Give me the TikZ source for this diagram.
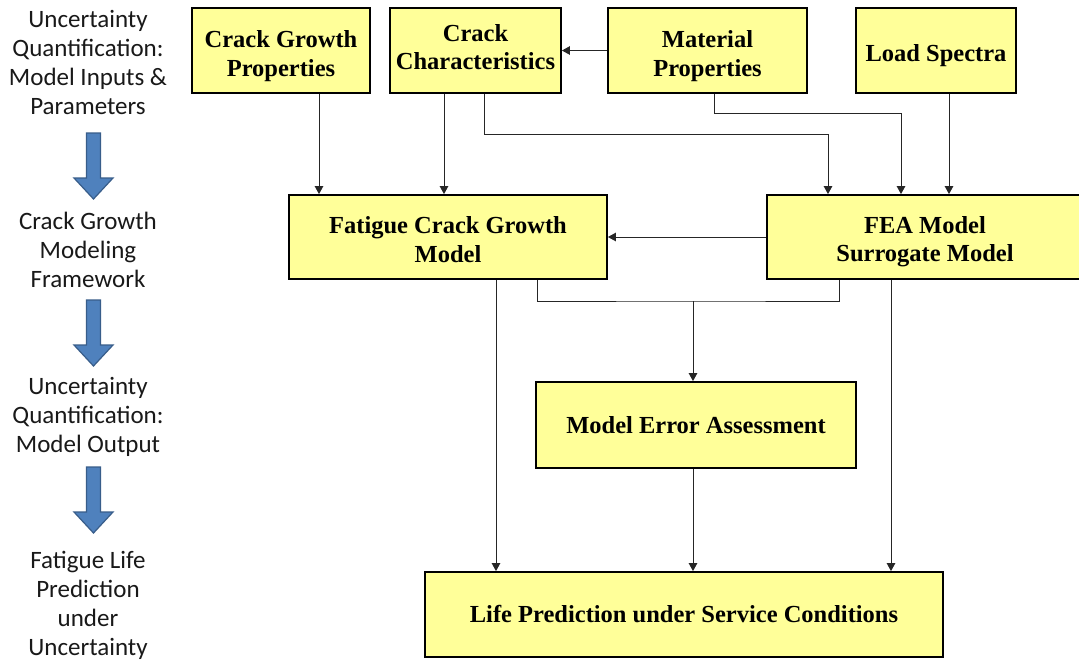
\documentclass[tikz,border=0pt]{standalone}
\usepackage{fontspec}
\setmainfont{Liberation Serif}
\newfontfamily\calibri{Carlito}
\usetikzlibrary{arrows.meta}
\definecolor{boxyellow}{HTML}{FFFF99}
\definecolor{arrowblue}{HTML}{4F81BD}
\definecolor{arrowedge}{HTML}{385D8A}

\begin{document}
\begin{tikzpicture}[x=1pt,y=-1pt,
	box/.style={draw,line width=1.8pt,fill=boxyellow,align=center,inner sep=0pt,font=\fontsize{24.5}{28.5}\selectfont\bfseries},
	sink/.style={text height=#1},
	lab/.style={align=center,text=black!90,font=\calibri\fontsize{25}{29}\selectfont},
	wire/.style={line width=0.9pt,draw=black!85},
	conn/.style={wire,-{Triangle[length=8pt,width=8.5pt]}}]
	\clip (0,0) rectangle (1079,662);
	\fill[white] (0,0) rectangle (1079,662);
	\node[lab] (uqin) at (88,62.5) {Uncertainty\\Quantification:\\Model Inputs \&\\Parameters};
	\node[lab] (cgmf) at (88,250) {Crack Growth\\Modeling\\Framework};
	\node[lab] (uqout) at (88,417) {Uncertainty\\Quantification:\\Model Output};
	\node[lab] (flpu) at (88,605) {Fatigue Life\\Prediction\\under\\Uncertainty};
	\foreach\t in{133,300,467}{\filldraw[fill=arrowblue,draw=arrowedge,line width=1.2pt] (86.5,\t) -- (100.5,\t) -- (100.5,\t+45) -- (113,\t+45) -- (93.5,\t+66) -- (74,\t+45) -- (86.5,\t+45) -- cycle;}
	\node[box,sink=57pt,minimum width=178pt,minimum height=85pt] (cgp) at (281,50.5) {Crack Growth\\Properties};
	\node[box,sink=39pt,minimum width=171pt,minimum height=85pt] (cc) at (475.5,50.5) {Crack\\Characteristics};
	\node[box,sink=57pt,minimum width=199pt,minimum height=85pt] (mp) at (707.5,50.5) {Material\\Properties};
	\node[box,sink=27pt,minimum width=160pt,minimum height=85pt] (ls) at (936,50.5) {Load Spectra};
	\node[box,sink=51pt,minimum width=318pt,minimum height=84pt] (fcg) at (448,237) {Fatigue Crack Growth\\Model};
	\node[box,sink=55pt,minimum width=316pt,minimum height=84pt] (fea) at (925,237) {FEA Model\\Surrogate Model};
	\node[box,minimum width=320pt,minimum height=86pt] (mea) at (696,425) {Model Error Assessment};
	\node[box,minimum width=518pt,minimum height=85pt] (life) at (684,614.5) {Life Prediction under Service Conditions};
	\coordinate (join) at (693,301);
	\draw[conn] (mp.west) -- (cc.east);
	\draw[conn] ([xshift=38pt]cgp.south) -- ([xshift=38pt]cgp.south |- fcg.north);
	\draw[conn] ([xshift=-31.5pt]cc.south) -- ([xshift=-31.5pt]cc.south |- fcg.north);
	\draw[conn] ([xshift=8.5pt]cc.south) -- ++(0,41) -| ([xshift=-97pt]fea.north);
	\draw[conn] ([xshift=6.5pt]mp.south) -- ++(0,20) -| ([xshift=-24pt]fea.north);
	\draw[conn] ([xshift=13pt]ls.south) -- ([xshift=13pt]ls.south |- fea.north);
	\draw[conn] (fea.west) -- (fcg.east);
	\draw[wire] ([xshift=89pt]fcg.south) |- (join) -| ([xshift=-86pt]fea.south);
	\draw[conn] (join) -- (join |- mea.north);
	\draw[conn] ([xshift=48pt]fcg.south) -- ([xshift=48pt]fcg.south |- life.north);
	\draw[conn] ([xshift=-3pt]mea.south) -- ([xshift=-3pt]mea.south |- life.north);
	\draw[conn] ([xshift=-34pt]fea.south) -- ([xshift=-34pt]fea.south |- life.north);
\end{tikzpicture}
\end{document}
